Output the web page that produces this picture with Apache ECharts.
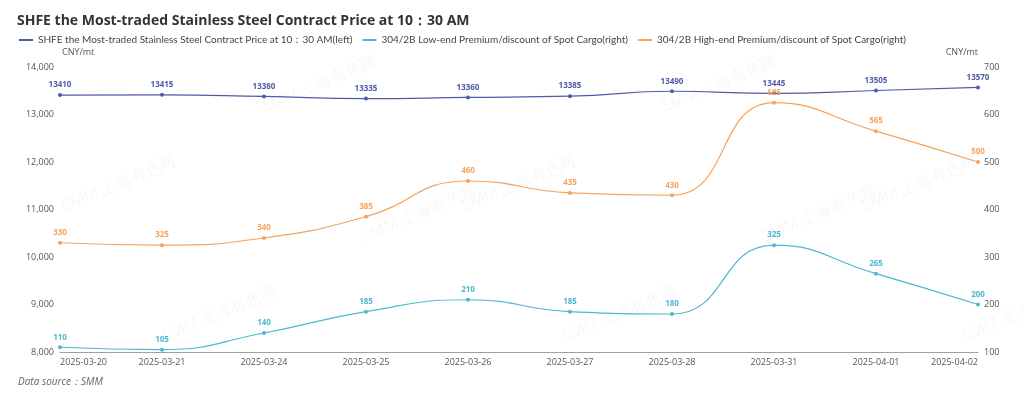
<!DOCTYPE html>
<html>
<head>
<meta charset="utf-8">
<script src="https://cdn.jsdelivr.net/npm/echarts@6/dist/echarts.min.js"></script>
<style>
  html, body { margin: 0; padding: 0; background: #fff; }
  #chart { width: 1024px; height: 399px; }
</style>
</head>
<body>
<div id="chart"></div>
<script>
const dates = ['2025-03-20', '2025-03-21', '2025-03-24', '2025-03-25', '2025-03-26',
    '2025-03-27', '2025-03-28', '2025-03-31', '2025-04-01', '2025-04-02'];
const shfePrice = [13410, 13415, 13380, 13335, 13360, 13385, 13490, 13445, 13505, 13570];
const lowEnd = [110, 105, 140, 185, 210, 185, 180, 325, 265, 200];
const highEnd = [330, 325, 340, 385, 460, 435, 430, 625, 565, 500];

const names = [
    'SHFE the Most-traded Stainless Steel Contract Price at 10：30 AM(left)',
    '304/2B Low-end Premium/discount of Spot Cargo(right)',
    '304/2B High-end Premium/discount of Spot Cargo(right)'
];
const colors = ['#4e5ba6', '#4db8cf', '#f5a35c'];
const font = '"Open Sans", "Noto Sans", sans-serif';
const legendFont = 'Lato, "Open Sans", sans-serif';

const chart = echarts.init(document.getElementById('chart'));

// faint watermark
const marks = [];
[[60, 200], [260, 100], [460, 200], [660, 100], [860, 200],
 [160, 330], [360, 230], [560, 330], [760, 230], [960, 330]].forEach(function (p) {
    marks.push({
        type: 'text', x: p[0], y: p[1], rotation: Math.PI / 8, silent: true, z: 0,
        style: {text: 'SMM 上海有色网', fill: 'rgba(0,0,0,0.035)', font: '16px ' + font}
    });
});
marks.push({
    type: 'text', left: 18, top: 377,
    style: {text: 'Data source：SMM', fill: '#666', font: 'italic 10px ' + font}
});

function line(i, data, axis) {
    return {
        name: names[i],
        type: 'line',
        yAxisIndex: axis,
        data: data,
        smooth: true,
        symbol: 'circle',
        symbolSize: 4,
        lineStyle: {width: 1.2, color: colors[i]},
        itemStyle: {color: colors[i]},
        label: {
            show: true, position: 'top', distance: 4,
            color: colors[i], fontSize: 8, fontWeight: 'bold', fontFamily: font
        }
    };
}

const option = {
    animation: false,
    color: colors,
    title: {
        text: 'SHFE the Most-traded Stainless Steel Contract Price at 10：30 AM',
        left: 12, top: 9,
        textStyle: {fontSize: 14, fontWeight: 'bold', color: '#333', fontFamily: font}
    },
    legend: {
        left: 14, top: 30,
        itemWidth: 14, itemHeight: 2, itemGap: 10,
        icon: 'rect',
        textStyle: {fontSize: 10, color: '#444', fontFamily: legendFont},
        data: names
    },
    graphic: marks,
    grid: {left: 60, right: 46, top: 67, bottom: 47, containLabel: false},
    xAxis: {
        type: 'category',
        data: dates,
        boundaryGap: false,
        axisLine: {lineStyle: {color: '#9aa0ad'}},
        axisTick: {show: false},
        axisLabel: {
            color: '#555', fontSize: 9, fontFamily: font, margin: 6,
            interval: 0, alignMinLabel: 'left', alignMaxLabel: 'right'
        }
    },
    yAxis: [{
        type: 'value', min: 8000, max: 14000, interval: 1000,
        name: 'CNY/mt',
        nameGap: 10,
        nameTextStyle: {color: '#555', fontSize: 9, fontFamily: font, align: 'left', padding: [0, 0, 0, 2]},
        axisLine: {show: false}, axisTick: {show: false}, splitLine: {show: false},
        axisLabel: {
            color: '#555', fontSize: 9, fontFamily: font, margin: 6,
            formatter: function (v) { return v.toLocaleString('en-US'); }
        }
    }, {
        type: 'value', min: 100, max: 700, interval: 100,
        name: 'CNY/mt',
        nameGap: 10,
        nameTextStyle: {color: '#555', fontSize: 9, fontFamily: font, align: 'right'},
        axisLine: {show: false}, axisTick: {show: false}, splitLine: {show: false},
        axisLabel: {color: '#555', fontSize: 9, fontFamily: font, margin: 6}
    }],
    series: [
        line(0, shfePrice, 0),
        line(1, lowEnd, 1),
        line(2, highEnd, 1)
    ]
};

chart.setOption(option);
window.addEventListener('resize', chart.resize.bind(chart));
</script>
</body>
</html>
